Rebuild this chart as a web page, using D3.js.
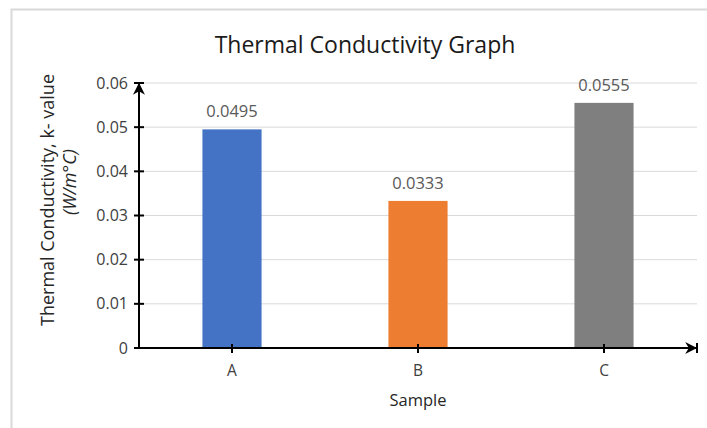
<!DOCTYPE html>
<html>
<head>
<meta charset="utf-8">
<script src="https://cdn.jsdelivr.net/npm/d3@7"></script>
<style>
  body { margin: 0; background: #fff; }
  svg { display: block; font-family: "Open Sans", sans-serif; }
</style>
</head>
<body>
<svg id="chart"></svg>
<script>
const samples = ["A", "B", "C"];
const kValues = [0.0495, 0.0333, 0.0555];
const valueLabels = ["0.0495", "0.0333", "0.0555"];
const yTicks = [0, 0.01, 0.02, 0.03, 0.04, 0.05, 0.06];
const barColors = ["#4472C4", "#ED7D31", "#7F7F7F"];

const W = 707, H = 428;
const margin = { top: 83, right: 10, bottom: 80, left: 139 };
const plotW = 558, plotH = 265;

const svg = d3.select("#chart").attr("width", W).attr("height", H);

// chart frame
svg.append("rect")
    .attr("x", 11.5).attr("y", 9.5)
    .attr("width", W).attr("height", H)
    .attr("fill", "none").attr("stroke", "#d9d9d9").attr("stroke-width", 2);

const defs = svg.append("defs");
defs.append("marker")
    .attr("id", "arrow")
    .attr("viewBox", "0 0 10 10")
    .attr("refX", 9).attr("refY", 5)
    .attr("markerWidth", 6).attr("markerHeight", 6)
    .attr("markerUnits", "strokeWidth")
    .attr("orient", "auto")
    .append("path")
    .attr("d", "M0,0 L10,5 L0,10 L3,5 Z")
    .attr("fill", "#000");

const g = svg.append("g").attr("transform", `translate(${margin.left},${margin.top})`);

const x = d3.scaleBand().domain(samples).range([0, plotW]).paddingInner(0.682).paddingOuter(0.341);
const y = d3.scaleLinear().domain([0, 0.06]).range([plotH, 0]);
const xc = d => x(d) + x.bandwidth() / 2;

// gridlines
g.append("g").selectAll("line")
    .data(yTicks.slice(1))
    .join("line")
    .attr("x1", 0).attr("x2", plotW)
    .attr("y1", d => y(d)).attr("y2", d => y(d))
    .attr("stroke", "#d9d9d9").attr("stroke-width", 1);

// bars
g.append("g").selectAll("rect")
    .data(samples)
    .join("rect")
    .attr("x", d => x(d))
    .attr("width", x.bandwidth())
    .attr("y", (d, i) => y(kValues[i]))
    .attr("height", (d, i) => y(0) - y(kValues[i]))
    .attr("fill", (d, i) => barColors[i]);

// data labels
g.append("g").selectAll("text")
    .data(samples)
    .join("text")
    .attr("x", d => xc(d))
    .attr("y", (d, i) => y(kValues[i]) - 12)
    .attr("text-anchor", "middle")
    .attr("font-size", 16.5)
    .attr("fill", "#595959")
    .text((d, i) => valueLabels[i]);

// y axis
const yAxis = g.append("g")
    .call(d3.axisLeft(y).tickValues(yTicks).tickSize(0).tickFormat(d => d3.format("")(+d.toFixed(2))));
yAxis.select(".domain").remove();
yAxis.selectAll("text").attr("font-size", 16).attr("fill", "#404040").attr("x", -11)
    .attr("font-family", "Open Sans, sans-serif");
g.append("g").selectAll("line")
    .data(yTicks)
    .join("line")
    .attr("x1", -5).attr("x2", 5)
    .attr("y1", d => y(d)).attr("y2", d => y(d))
    .attr("stroke", "#000").attr("stroke-width", 2);
g.append("line")
    .attr("x1", 0).attr("x2", 0)
    .attr("y1", plotH).attr("y2", y(0.06) + 1)
    .attr("stroke", "#000").attr("stroke-width", 2)
    .attr("marker-end", "url(#arrow)");

// x axis
const xAxis = g.append("g")
    .attr("transform", `translate(0,${plotH})`)
    .call(d3.axisBottom(x).tickSize(0).tickPadding(17));
xAxis.select(".domain").remove();
xAxis.selectAll("text").attr("font-size", 15.5).attr("fill", "#404040")
    .attr("font-family", "Open Sans, sans-serif");
g.append("g").selectAll("line")
    .data(samples)
    .join("line")
    .attr("x1", d => xc(d)).attr("x2", d => xc(d))
    .attr("y1", plotH - 4).attr("y2", plotH + 5)
    .attr("stroke", "#000").attr("stroke-width", 2);
g.append("line")
    .attr("x1", -5).attr("x2", plotW - 1)
    .attr("y1", plotH).attr("y2", plotH)
    .attr("stroke", "#000").attr("stroke-width", 2)
    .attr("marker-end", "url(#arrow)");
g.append("line")
    .attr("x1", plotW).attr("x2", plotW)
    .attr("y1", plotH - 5).attr("y2", plotH + 5)
    .attr("stroke", "#000").attr("stroke-width", 2);

// title
svg.append("text")
    .attr("x", 365).attr("y", 53)
    .attr("text-anchor", "middle")
    .attr("font-size", 23)
    .attr("fill", "#1a1a1a")
    .text("Thermal Conductivity Graph");

// axis titles
svg.append("text")
    .attr("x", margin.left + plotW / 2).attr("y", 406)
    .attr("text-anchor", "middle")
    .attr("font-size", 16.5)
    .attr("fill", "#262626")
    .text("Sample");

const yTitle = svg.append("text")
    .attr("transform", "translate(54,200) rotate(-90)")
    .attr("text-anchor", "middle")
    .attr("font-size", 18)
    .attr("fill", "#262626");
yTitle.append("tspan").attr("x", 0).attr("y", 0).text("Thermal Conductivity, k- value");
yTitle.append("tspan").attr("x", 18).attr("y", 22).attr("font-style", "italic").text("(W/m°C)");
</script>
</body>
</html>
